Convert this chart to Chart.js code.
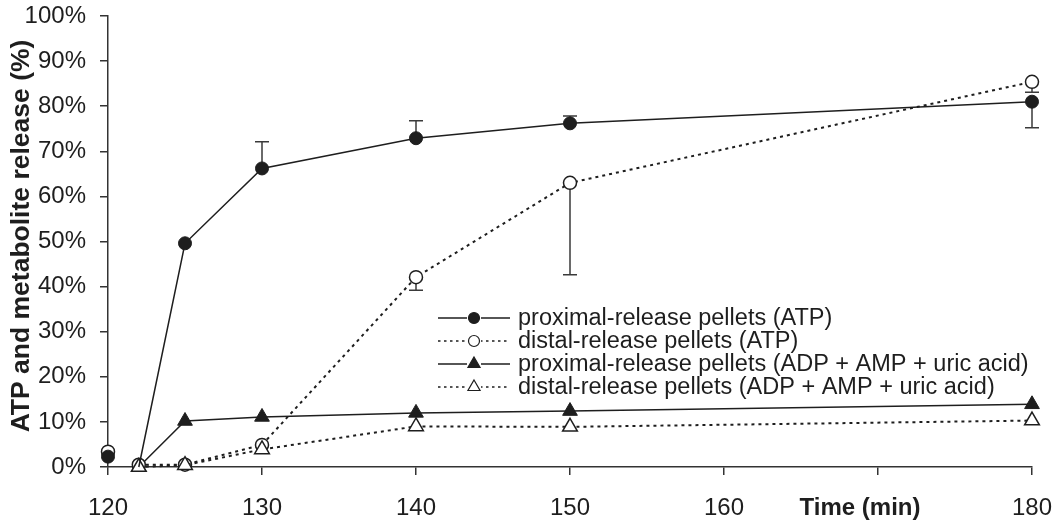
<!DOCTYPE html>
<html>
<head>
<meta charset="utf-8">
<script src="https://cdn.jsdelivr.net/npm/chart.js@4.4.0/dist/chart.umd.min.js"></script>
<style>
html,body{margin:0;padding:0;background:#fff;}
#wrap{width:1063px;height:521px;}
</style>
</head>
<body>
<div id="wrap"><canvas id="c" width="1063" height="521"></canvas></div>
<script>
// ---- data ----
const times = [120, 122, 125, 130, 140, 150, 180];
const proximalAtp = [2.3, 0, 49.6, 66.2, 72.9, 76.2, 81.0];
const distalAtp = [3.4, 0.5, 0.5, 4.9, 42.1, 63.0, 85.4];
const proximalMetab = [null, 0, 10.2, 11.1, 12.0, 12.4, 13.9];
const distalMetab = [null, 0, 0.4, 3.9, 9.0, 8.9, 10.3];
// error bars (one-sided, as drawn)
const proximalAtpErrUp = [0, 0, 0, 5.9, 3.9, 1.6, 0];
const proximalAtpErrDown = [0, 0, 0, 0, 0, 0, 5.8];
const distalAtpErrUp = [0, 0, 0, 0, 0, 0, 0];
const distalAtpErrDown = [0, 0, 0, 0, 2.9, 20.4, 2.3];
const xTicks = [120, 130, 140, 150, 160, 170, 180];
const yTicks = [0, 10, 20, 30, 40, 50, 60, 70, 80, 90, 100];
const seriesNames = [
  'proximal-release pellets (ATP)',
  'distal-release pellets (ATP)',
  'proximal-release pellets (ADP + AMP + uric acid)',
  'distal-release pellets (ADP + AMP + uric acid)'
];
const xTitle = 'Time (min)';
const yTitle = 'ATP and metabolite release (%)';

// ---- build ----
const INK = '#1e1e1e';
const FONT = '"Liberation Sans", Arial, Helvetica, sans-serif';
const pts = arr => times.map((t, i) => ({x: t, y: arr[i]})).filter(p => p.y !== null);
const hideFirst = {borderColor: ctx => ctx.p0.parsed.x < 121 ? 'rgba(0,0,0,0)' : undefined};

const datasets = [
  {label: seriesNames[0], data: pts(proximalAtp), borderColor: INK, borderWidth: 1.5,
   pointStyle: 'circle', pointRadius: ctx => (ctx.raw && ctx.raw.x === 122) ? 0 : 6.5,
   pointBackgroundColor: INK, pointBorderColor: INK, pointBorderWidth: 1, order: 0, clip: false,
   segment: hideFirst, errUp: proximalAtpErrUp, errDown: proximalAtpErrDown},
  {label: seriesNames[1], data: pts(distalAtp), borderColor: INK, borderWidth: 2, borderDash: [3, 4],
   pointStyle: 'circle', pointRadius: 6.5, pointBackgroundColor: '#fff', pointBorderColor: INK,
   pointBorderWidth: 1.5, order: 2, clip: false, segment: hideFirst, errUp: distalAtpErrUp, errDown: distalAtpErrDown},
  {label: seriesNames[2], data: pts(proximalMetab), borderColor: INK, borderWidth: 1.5,
   pointStyle: 'triangle', pointRadius: 8.5, pointBackgroundColor: INK, pointBorderColor: INK,
   pointBorderWidth: 1, order: 3, clip: false},
  {label: seriesNames[3], data: pts(distalMetab), borderColor: INK, borderWidth: 2, borderDash: [3, 4],
   pointStyle: 'triangle', pointRadius: 8.5, pointBackgroundColor: '#fff', pointBorderColor: INK,
   pointBorderWidth: 1.5, order: 1, clip: false}
];

const errorBars = {
  id: 'errorBars',
  beforeDatasetsDraw(chart) {
    const ctx = chart.ctx, xs = chart.scales.x, ys = chart.scales.y;
    ctx.save();
    ctx.strokeStyle = '#3a3a3a';
    ctx.lineWidth = 1.5;
    chart.data.datasets.forEach(ds => {
      if (!ds.errUp) return;
      times.forEach((t, i) => {
        const v = ds === chart.data.datasets[0] ? proximalAtp[i] : distalAtp[i];
        const px = xs.getPixelForValue(t);
        [[ds.errUp[i], 1], [ds.errDown[i], -1]].forEach(([e, s]) => {
          if (!e) return;
          const y0 = ys.getPixelForValue(v), y1 = ys.getPixelForValue(v + s * e);
          ctx.beginPath();
          ctx.moveTo(px, y0); ctx.lineTo(px, y1);
          ctx.moveTo(px - 7, y1); ctx.lineTo(px + 7, y1);
          ctx.stroke();
        });
      });
    });
    ctx.restore();
  }
};

const extras = {
  id: 'extras',
  afterDraw(chart) {
    const ctx = chart.ctx;
    ctx.save();
    ctx.fillStyle = INK;
    // x title in place of the 170 label
    ctx.font = 'bold 24px ' + FONT;
    ctx.textAlign = 'center';
    ctx.textBaseline = 'alphabetic';
    ctx.fillText(xTitle, 860, 515);
    // y title
    ctx.save();
    ctx.font = 'bold 26.5px ' + FONT;
    ctx.translate(29, 236);
    ctx.rotate(-Math.PI / 2);
    ctx.fillText(yTitle, 0, 0);
    ctx.restore();
    // legend
    const lx0 = 438, lx1 = 510, mx = 474, tx = 518;
    const rows = [318, 341, 364, 387];
    datasets.forEach((ds, i) => {
      const y = rows[i];
      ctx.save();
      ctx.strokeStyle = INK;
      ctx.lineWidth = 1.5;
      ctx.setLineDash(ds.borderDash ? [2.5, 3.5] : []);
      ctx.beginPath(); ctx.moveTo(lx0, y); ctx.lineTo(lx1, y); ctx.stroke();
      ctx.setLineDash([]);
      ctx.fillStyle = '#fff';
      ctx.fillRect(mx - 7, y - 7, 14, 14);
      ctx.fillStyle = ds.pointBackgroundColor;
      ctx.lineWidth = 1.2;
      ctx.beginPath();
      if (ds.pointStyle === 'circle') {
        ctx.arc(mx, y, 5.5, 0, Math.PI * 2);
      } else {
        const r = 7;
        ctx.moveTo(mx, y - r);
        ctx.lineTo(mx + r * 0.866, y + r * 0.5);
        ctx.lineTo(mx - r * 0.866, y + r * 0.5);
        ctx.closePath();
      }
      ctx.fill(); ctx.stroke();
      ctx.restore();
      ctx.font = '23.5px ' + FONT;
      ctx.fillStyle = INK;
      ctx.textAlign = 'left';
      ctx.textBaseline = 'middle';
      ctx.fillText(ds.label, tx, y + 1);
    });
    ctx.restore();
  }
};

new Chart(document.getElementById('c'), {
  type: 'line',
  data: {datasets},
  options: {
    responsive: false,
    animation: false,
    events: [],
    layout: {padding: {left: 0, right: 31, top: 16, bottom: 0}},
    plugins: {legend: {display: false}, tooltip: {enabled: false}},
    scales: {
      x: {
        type: 'linear', min: 120, max: 180,
        afterBuildTicks: s => { s.ticks = xTicks.map(v => ({value: v})); },
        afterFit: s => { s.height = 54; s.paddingLeft = 0; s.paddingRight = 0; },
        border: {color: '#333', width: 1.5},
        grid: {display: true, drawOnChartArea: false, drawTicks: true, tickLength: 8, color: '#333', lineWidth: 1.5},
        ticks: {color: INK, font: {family: FONT, size: 24}, padding: 19, maxRotation: 0,
                callback: v => v === 170 ? '' : String(v)}
      },
      y: {
        type: 'linear', min: 0, max: 100,
        afterBuildTicks: s => { s.ticks = yTicks.map(v => ({value: v})); },
        afterFit: s => { s.width = 108; s.paddingTop = 0; s.paddingBottom = 0; },
        border: {color: '#333', width: 1.5},
        grid: {display: true, drawOnChartArea: false, drawTicks: true, tickLength: 8, color: '#333', lineWidth: 1.5},
        ticks: {color: INK, font: {family: FONT, size: 24}, padding: 14, callback: v => v + '%'}
      }
    }
  },
  plugins: [errorBars, extras]
});
</script>
</body>
</html>
